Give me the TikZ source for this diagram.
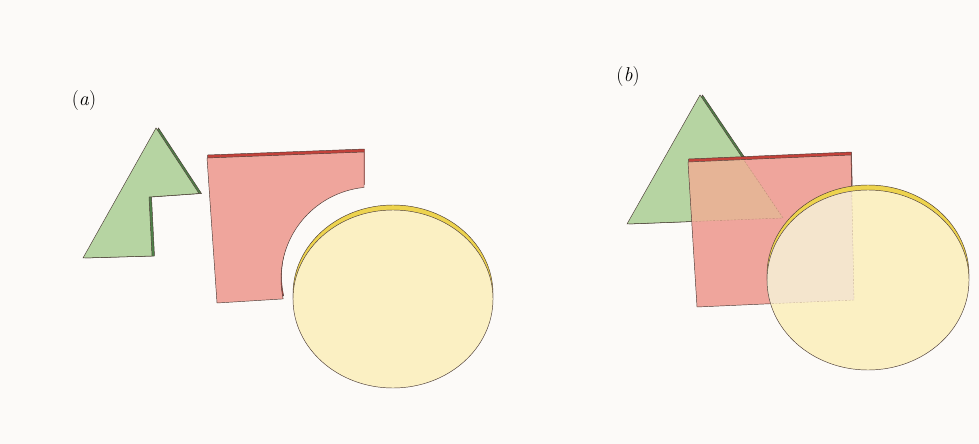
\documentclass[tikz,border=0pt]{standalone}
\usepackage{fontspec}
\definecolor{bg}{HTML}{FCFAF8}
\definecolor{gfront}{HTML}{B6D4A2}
\definecolor{gback}{HTML}{4E7F48}
\definecolor{rfront}{HTML}{EFA59C}
\definecolor{rback}{HTML}{C2413A}
\definecolor{yfront}{HTML}{FBF0C3}
\definecolor{yback}{HTML}{EDD34E}
\definecolor{rgover}{HTML}{E6B496}
\definecolor{yrover}{HTML}{F4E5CD}
\definecolor{edge}{HTML}{4A3A35}
\definecolor{hidg}{HTML}{B98A75}
\definecolor{hidr}{HTML}{C9B39A}
\begin{document}
\begin{tikzpicture}[x=1pt,y=-1pt,
  outl/.style={draw=edge,line width=0.45pt},
  hidden/.style={dash pattern=on 2pt off 1.5pt,line width=0.35pt},
  lab/.style={font=\fontsize{20}{24}\selectfont, inner sep=0pt}]
\fill[bg] (0,0) rectangle (979,444);
\useasboundingbox (0,0) rectangle (979,444);

% ---------- (a) ----------
\node[lab] (la) at (84,101) {(\textit{a})};

% green notched triangle
\filldraw[fill=gback,outl] (158.5,128) -- (201.5,193.5) -- (151.5,197) -- (154.5,256) -- (85.5,258) -- cycle;
\filldraw[fill=gfront,outl] (156,128) -- (199,193.5) -- (149,197) -- (152,256) -- (83,258) -- cycle;

% red plate with concave arc
\filldraw[fill=rback,outl] (207.5,155) -- (364.5,149) -- (364.5,184)
  -- plot[domain=264.4:167.5,samples=40] ({373.5+92*cos(\x)},{276+92*sin(\x)})
  -- (217.5,300) -- cycle;
\filldraw[fill=rfront,outl] (207,158) -- (364,152) -- (364,187)
  -- plot[domain=264.4:167.5,samples=40] ({373+92*cos(\x)},{279+92*sin(\x)})
  -- (217,303) -- cycle;

% yellow disc
\filldraw[fill=yback,outl] (393,294) ellipse [x radius=100pt, y radius=89pt];
\filldraw[fill=yfront,outl] (393,299) ellipse [x radius=100pt, y radius=89pt];

% ---------- (b) ----------
\node[lab] (lb) at (628,77) {(\textit{b})};

% triangle
\filldraw[fill=gback,outl] (702.5,95) -- (629.5,224) -- (785.5,218) -- cycle;
\filldraw[fill=gfront,outl] (700,95) -- (627,224) -- (783,218) -- cycle;

% red square
\filldraw[fill=rback,outl] (688.5,159) -- (851.5,152) -- (854.5,297) -- (697.5,304) -- cycle;
\fill[rfront] (688,162) -- (851,155) -- (854,300) -- (697,307) -- cycle;
\begin{scope}
  \clip (688,162) -- (851,155) -- (854,300) -- (697,307) -- cycle;
  \fill[rgover] (700,95) -- (627,224) -- (783,218) -- cycle;
  \draw[hidden,draw=hidg] (700,95) -- (627,224) -- (783,218) -- cycle;
\end{scope}
\draw[outl] (688,162) -- (851,155) -- (854,300) -- (697,307) -- cycle;

% disc
\filldraw[fill=yback,outl] (868,275) ellipse [x radius=101pt, y radius=90pt];
\fill[yfront] (868,280) ellipse [x radius=101pt, y radius=90pt];
\begin{scope}
  \clip (868,280) ellipse [x radius=101pt, y radius=90pt];
  \fill[yrover] (688,162) -- (851,155) -- (854,300) -- (697,307) -- cycle;
  \draw[hidden,draw=hidr] (688,162) -- (851,155) -- (854,300) -- (697,307) -- cycle;
\end{scope}
\draw[outl] (868,280) ellipse [x radius=101pt, y radius=90pt];
\end{tikzpicture}
\end{document}
